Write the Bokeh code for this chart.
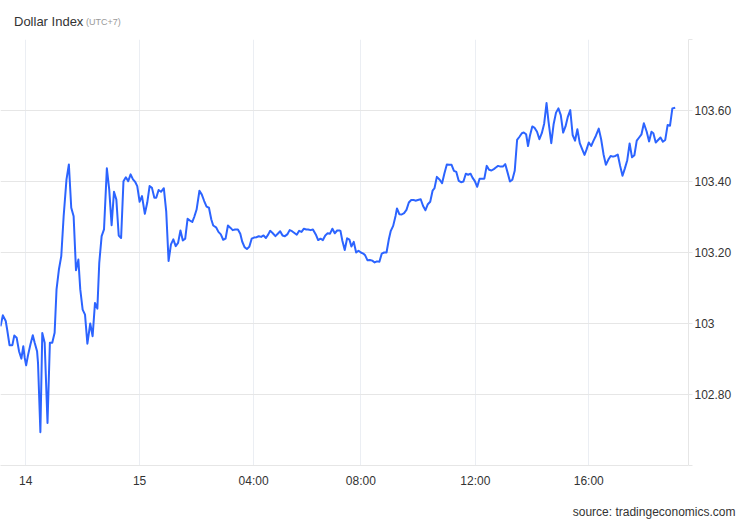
from bokeh.plotting import figure
from bokeh.models import Range1d, FixedTicker, ColumnDataSource, Div
from bokeh.layouts import column
from bokeh.embed import file_html
from bokeh.resources import INLINE

# Dollar Index samples: time (minutes from start of visible window) and value
minutes = [
    0, 5, 11, 14, 19, 25, 29, 34, 39, 44,
    48, 51, 54, 58, 63, 68, 72, 77, 79, 84,
    88, 93, 99, 104, 109, 114, 118, 123, 128, 133,
    139, 144, 149, 154, 159, 164, 168, 173, 178, 183,
    189, 194, 199, 204, 208, 213, 218, 224, 229, 234,
    239, 244, 249, 254, 259, 264, 269, 274, 279, 284,
    288, 293, 298, 304, 309, 314, 319, 324, 328, 333,
    338, 344, 349, 354, 359, 364, 369, 374, 379, 384,
    389, 394, 399, 404, 408, 413, 419, 424, 429, 434,
    439, 444, 448, 454, 459, 464, 469, 474, 479, 484,
    489, 494, 500, 505, 509, 514, 519, 524, 529, 534,
    539, 544, 549, 554, 559, 564, 568, 573, 579, 584,
    589, 594, 599, 604, 609, 614, 619, 624, 629, 634,
    639, 644, 648, 653, 658, 664, 669, 674, 679, 684,
    689, 694, 699, 704, 709, 714,
    716, 720, 725, 730, 735, 739, 744, 749, 754, 759,
    764, 768, 773, 778, 783, 788, 793, 798, 803, 808,
    813, 818, 822, 827, 832, 835, 840, 845, 850, 855,
    860, 865, 870, 874, 879, 885, 890, 895, 900, 905,
    910, 914, 919, 925, 930, 935, 940, 945, 950, 955,
    960, 965, 970, 975, 980, 985, 990, 994, 999, 1004,
    1009, 1014, 1019, 1024, 1029, 1034, 1039, 1044, 1048, 1053,
    1058, 1063, 1068, 1073, 1078, 1083, 1088, 1093, 1098, 1102,
    1107, 1111, 1115, 1120, 1125, 1130, 1135, 1140, 1145, 1150,
    1154, 1160, 1165, 1170, 1175, 1180, 1185, 1190, 1195, 1200,
    1205, 1210, 1215, 1220, 1225, 1230, 1234, 1239, 1244, 1249,
    1254, 1260, 1265, 1270, 1275, 1280, 1285, 1290, 1295, 1300,
    1305, 1310, 1315, 1320, 1325, 1330, 1335, 1340, 1345, 1350,
    1355, 1361, 1366, 1371, 1375, 1380, 1385, 1390, 1395, 1400,
    1405, 1410, 1415, 1421,
]
values = [
    102.992, 103.023, 103.007, 102.983, 102.939, 102.939, 102.966, 102.960, 102.922, 102.901,
    102.936, 102.903, 102.882, 102.911, 102.941, 102.967, 102.946, 102.922, 102.889, 102.694,
    102.973, 102.946, 102.720, 102.946, 102.946, 102.974, 103.096, 103.152, 103.190, 103.302,
    103.406, 103.448, 103.326, 103.302, 103.150, 103.180, 103.096, 103.039, 103.025, 102.943,
    103.000, 102.964, 103.058, 103.042, 103.171, 103.246, 103.265, 103.437, 103.377, 103.277,
    103.371, 103.349, 103.248, 103.241, 103.401, 103.412, 103.401, 103.420, 103.406, 103.398,
    103.387, 103.343, 103.359, 103.309, 103.340, 103.387, 103.382, 103.354, 103.354, 103.376,
    103.371, 103.381, 103.316, 103.176, 103.223, 103.237, 103.218, 103.227, 103.262, 103.234,
    103.239, 103.295, 103.290, 103.286, 103.300, 103.321, 103.374, 103.363, 103.345, 103.329,
    103.326, 103.293, 103.276, 103.271, 103.258, 103.251, 103.236, 103.239, 103.276, 103.270,
    103.263, 103.265, 103.265, 103.253, 103.231, 103.215, 103.210, 103.216, 103.239, 103.242,
    103.243, 103.246, 103.244, 103.248, 103.241, 103.251, 103.261, 103.255, 103.246, 103.253,
    103.260, 103.248, 103.246, 103.251, 103.263, 103.260, 103.255, 103.250, 103.261, 103.258,
    103.267, 103.265, 103.265, 103.263, 103.265, 103.251, 103.235, 103.239, 103.235, 103.248,
    103.254, 103.253, 103.267, 103.254, 103.262, 103.262,
    103.261, 103.233, 103.207, 103.240, 103.236, 103.217, 103.230, 103.200, 103.205, 103.200,
    103.197, 103.192, 103.178, 103.179, 103.177, 103.172, 103.175, 103.174, 103.197, 103.200,
    103.200, 103.238, 103.261, 103.275, 103.303, 103.324, 103.308, 103.307, 103.311, 103.320,
    103.341, 103.348, 103.348, 103.346, 103.348, 103.350, 103.331, 103.319, 103.336, 103.343,
    103.374, 103.381, 103.413, 103.405, 103.395, 103.423, 103.448, 103.447, 103.447, 103.430,
    103.427, 103.402, 103.398, 103.400, 103.422, 103.419, 103.422, 103.411, 103.401, 103.385,
    103.408, 103.408, 103.408, 103.444, 103.433, 103.431, 103.435, 103.440, 103.444, 103.442,
    103.442, 103.449, 103.425, 103.400, 103.405, 103.430, 103.517, 103.526, 103.536, 103.538,
    103.533, 103.500, 103.529, 103.555, 103.551, 103.540, 103.519, 103.536, 103.563, 103.621,
    103.571, 103.508, 103.562, 103.594, 103.606, 103.587, 103.538, 103.555, 103.583, 103.601,
    103.531, 103.515, 103.547, 103.508, 103.491, 103.475, 103.489, 103.510, 103.500, 103.515,
    103.529, 103.549, 103.519, 103.477, 103.447, 103.461, 103.472, 103.470, 103.472, 103.476,
    103.444, 103.416, 103.437, 103.460, 103.507, 103.468, 103.474, 103.515, 103.524, 103.533,
    103.564, 103.540, 103.513, 103.540, 103.536, 103.510, 103.517, 103.524, 103.512, 103.517,
    103.559, 103.557, 103.606, 103.608,
]

x_tick_pos = [53, 293, 533, 759, 1000, 1239]
x_tick_labels = ["14", "15", "04:00", "08:00", "12:00", "16:00"]
y_ticks = [102.6, 102.8, 103.0, 103.2, 103.4, 103.6, 103.8]
y_tick_labels = ["", "102.80", "103", "103.20", "103.40", "103.60", ""]

title_text = "Dollar Index"
title_note = "(UTC+7)"
source_text = "source: tradingeconomics.com"

FONT = "Liberation Sans"
GRID = "#e6e6e6"

p = figure(width=750, height=462, output_backend="svg", toolbar_location=None,
           x_range=Range1d(0, 1449), y_range=Range1d(102.6, 103.8),
           y_axis_location="right", margin=0,
           min_border_left=0, min_border_right=62, min_border_top=0, min_border_bottom=36)
p.outline_line_color = None
p.background_fill_color = "white"
p.border_fill_color = "white"

src = ColumnDataSource(dict(x=minutes, y=values))
p.line("x", "y", source=src, line_color="#2c64ff", line_width=2, line_join="round")

# x axis
p.xaxis.ticker = FixedTicker(ticks=x_tick_pos)
p.xaxis.major_label_overrides = dict(zip(x_tick_pos, x_tick_labels))
p.xaxis.axis_line_color = GRID
p.xaxis.major_tick_out = 0
p.xaxis.major_tick_in = 0
p.xaxis.minor_tick_out = 0
p.xaxis.minor_tick_in = 0
p.xaxis.major_label_standoff = 8
p.xaxis.major_label_text_font = FONT
p.xaxis.major_label_text_font_size = "12px"
p.xaxis.major_label_text_color = "#333333"

# y axis (right)
p.yaxis.ticker = FixedTicker(ticks=y_ticks)
p.yaxis.major_label_overrides = dict(zip(y_ticks, y_tick_labels))
p.yaxis.axis_line_color = GRID
p.yaxis.major_tick_line_color = GRID
p.yaxis.major_tick_out = 4
p.yaxis.major_tick_in = 0
p.yaxis.minor_tick_out = 0
p.yaxis.minor_tick_in = 0
p.yaxis.major_label_standoff = 2
p.yaxis.major_label_text_font = FONT
p.yaxis.major_label_text_font_size = "12px"
p.yaxis.major_label_text_color = "#333333"

p.xgrid.grid_line_color = "#ebeef3"
p.ygrid.grid_line_color = GRID

header = Div(
    text=(f'<div style="position:relative;width:750px;height:39px;font-family:\'{FONT}\';">'
          f'<span style="position:absolute;left:14px;top:14.5px;font-size:13px;line-height:13px;'
          f'color:#333333;white-space:nowrap">{title_text}</span>'
          f'<span style="position:absolute;left:86px;top:18px;font-size:9px;line-height:9px;'
          f'color:#999999;white-space:nowrap">{title_note}</span></div>'),
    width=750, height=39, margin=0)

footer = Div(
    text=(f'<div style="position:relative;width:750px;height:19px;font-family:\'{FONT}\';">'
          f'<span style="position:absolute;right:14.5px;top:4.8px;font-size:12px;line-height:12px;'
          f'color:#333333;white-space:nowrap">{source_text}</span></div>'),
    width=750, height=19, margin=0)

layout = column(header, p, footer, spacing=0, margin=0)

open("out.html", "w").write(file_html(layout, INLINE))
